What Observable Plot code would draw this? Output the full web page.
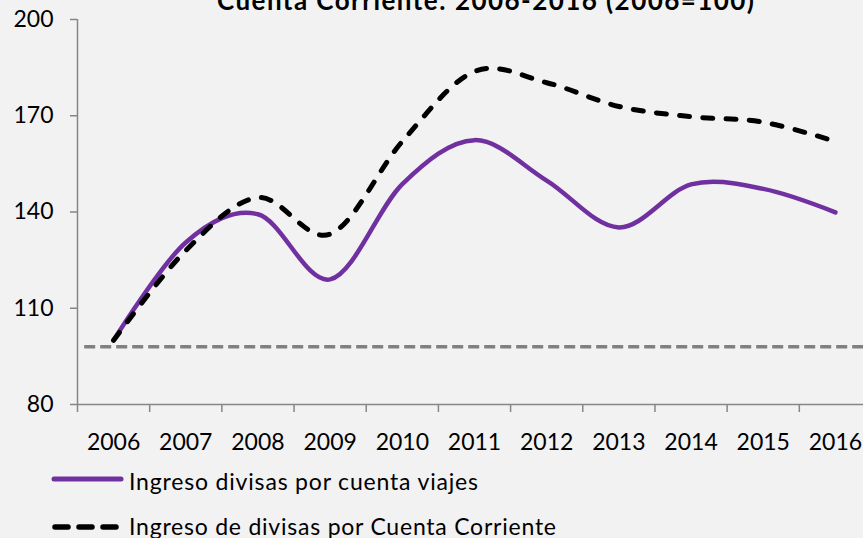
<!DOCTYPE html>
<html><head><meta charset="utf-8">
<script src="https://cdn.jsdelivr.net/npm/d3@7"></script>
<script src="https://cdn.jsdelivr.net/npm/@observablehq/plot@0.6"></script>
<style>
body{margin:0;background:#f2f2f2;}
#wrap{position:relative;width:863px;height:538px;overflow:hidden;background:#f2f2f2;font-family:Lato,sans-serif;}
#wrap svg{display:block;}
#legend{position:absolute;left:0;top:460px;}
</style></head><body><div id="wrap"></div>
<script>
const title = "Cuenta Corriente: 2006-2016 (2006=100)";
const years = [2006, 2007, 2008, 2009, 2010, 2011, 2012, 2013, 2014, 2015, 2016];
const viajes = [100, 130.5, 139.3, 119.0, 148.7, 162.4, 149.8, 135.2, 148.6, 147.2, 139.9];
const corriente = [100, 128.0, 144.5, 133.1, 162.0, 183.8, 180.3, 172.9, 169.7, 168.0, 162.0];
const referencia = 98;
const yTicks = [80, 110, 140, 170, 200];
const xBounds = [2005.5, 2006.5, 2007.5, 2008.5, 2009.5, 2010.5, 2011.5, 2012.5, 2013.5, 2014.5, 2015.5, 2016.5];
const labels = ["Ingreso divisas por cuenta viajes", "Ingreso de divisas por Cuenta Corriente"];

const axisGray = "#868686";

const chart = Plot.plot({
  width: 863, height: 460,
  marginLeft: 77, marginRight: -8, marginTop: 19, marginBottom: 56,
  style: {background: "transparent", fontFamily: "Lato, sans-serif", fontSize: "23px", color: "#000", overflow: "hidden"},
  x: {type: "linear", domain: [2005.5, 2016.5]},
  y: {domain: [80, 200]},
  marks: [
    Plot.ruleY([referencia], {x1: 2005.6, x2: 2016.5, stroke: "#808080", strokeWidth: 3.5, strokeDasharray: "11,5"}),
    Plot.ruleY([80], {stroke: axisGray, strokeWidth: 1.5}),
    Plot.ruleX([2005.5], {stroke: axisGray, strokeWidth: 1.5}),
    Plot.axisY({ticks: yTicks, tickSize: 7, tickPadding: 17, stroke: axisGray, strokeWidth: 1.5, fill: "#000", fontSize: 23, label: null, tickFormat: d => String(d)}),
    Plot.axisX({ticks: xBounds, tickSize: 8, tickFormat: () => "", stroke: axisGray, strokeWidth: 1.5, label: null}),
    Plot.axisX({ticks: years, tickSize: 0, tickPadding: 29, tickFormat: d => String(d), label: null, fontSize: 23, fill: "#000"}),
    Plot.line(viajes, {x: (d, i) => years[i], y: d => d, curve: "cardinal", stroke: "#7030a0", strokeWidth: 4.5, strokeLinecap: "round"}),
    Plot.line(corriente, {x: (d, i) => years[i], y: d => d, curve: "cardinal", stroke: "#000", strokeWidth: 5, strokeDasharray: "10,13.3", strokeLinecap: "round"}),
    Plot.text([title], {frameAnchor: "top", dx: 11, dy: -10, lineAnchor: "bottom", fontWeight: "bold", fontSize: 26, fill: "#000"})
  ]
});
const wrap = document.getElementById("wrap");
wrap.appendChild(chart);
d3.select(chart).selectAll('g[aria-label="text"] text')
  .attr("textLength", 537).attr("lengthAdjust", "spacing");

// Legend
const leg = d3.select(wrap).append("svg").attr("id", "legend").attr("width", 863).attr("height", 78)
  .style("font-family", "Lato, sans-serif").style("font-size", "23px");
const r1 = leg.append("g");
r1.append("line").attr("x1", 54).attr("x2", 121).attr("y1", 19).attr("y2", 19)
  .attr("stroke", "#7030a0").attr("stroke-width", 5).attr("stroke-linecap", "round");
r1.append("text").attr("x", 129).attr("y", 30).attr("textLength", 349).attr("lengthAdjust", "spacing").text(labels[0]);
const r2 = leg.append("g");
r2.append("line").attr("x1", 55).attr("x2", 118).attr("y1", 67).attr("y2", 67)
  .attr("stroke", "#000").attr("stroke-width", 5.5).attr("stroke-linecap", "round").attr("stroke-dasharray", "13,11");
r2.append("text").attr("x", 129).attr("y", 75).attr("textLength", 427).attr("lengthAdjust", "spacing").text(labels[1]);
</script></body></html>
